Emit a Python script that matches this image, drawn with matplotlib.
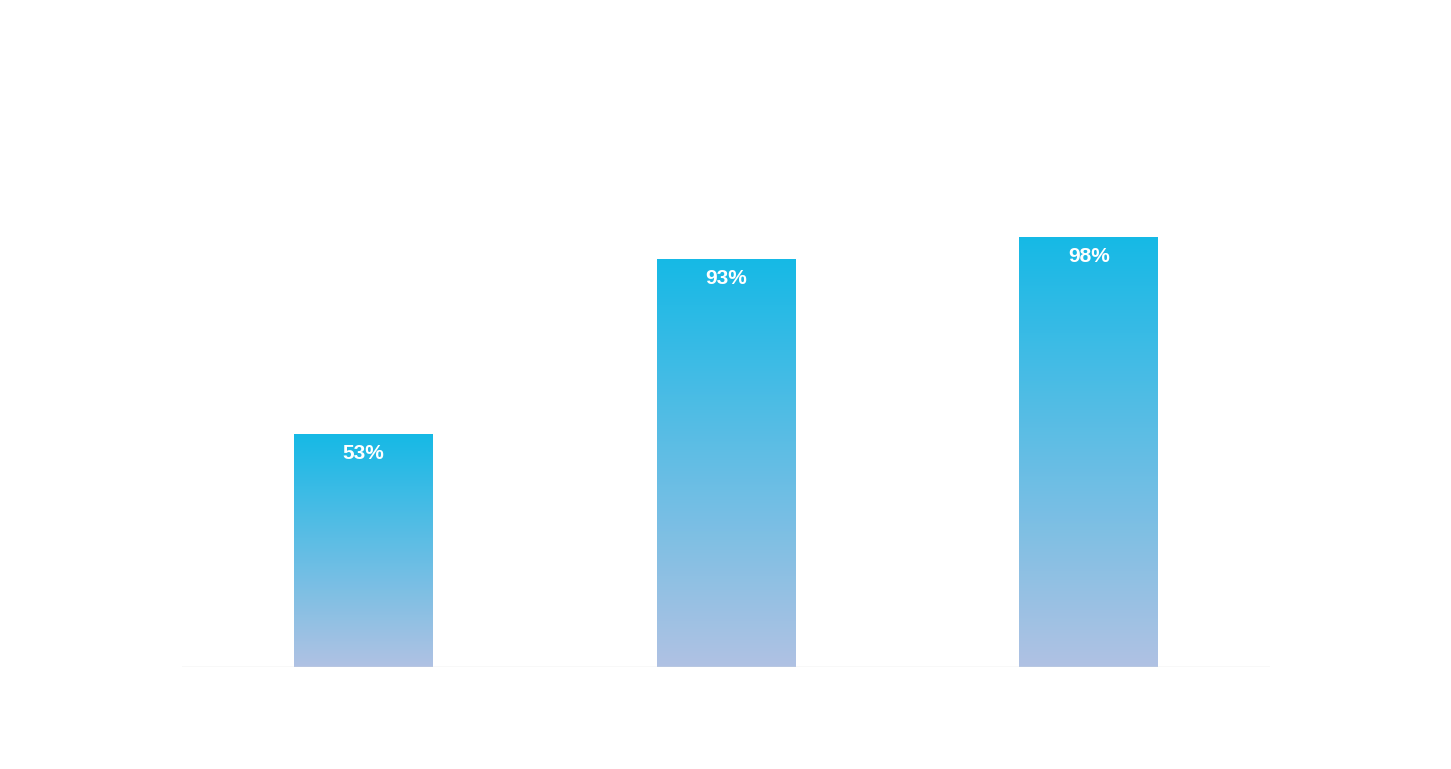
import matplotlib
matplotlib.use("Agg")
import matplotlib.pyplot as plt
import numpy as np
from matplotlib.colors import LinearSegmentedColormap

categories = ["A", "B", "C"]
values = [53, 93, 98]
labels = ["53%", "93%", "98%"]

W, H = 1451, 769
fig = plt.figure(figsize=(W/100, H/100), dpi=100)
ax = fig.add_axes([182/W, (H-667)/H, 1088/W, 438/H])
ax.set_xlim(-0.5, 2.5)
ax.set_ylim(0, 100)
ax.axis("off")
ax.axhline(0, color="#dddddd", lw=1, zorder=3)

cmap = LinearSegmentedColormap.from_list("g", ["#B0C2E3", "#16B9E6"])
grad = np.linspace(0, 1, 256).reshape(-1, 1)
bw = 0.383
for i, (v, lab) in enumerate(zip(values, labels)):
    ax.imshow(grad, cmap=cmap, origin="lower", aspect="auto",
              extent=(i - bw/2, i + bw/2, 0, v), zorder=2)
    ax.text(i, v - 4.3, lab, ha="center", va="center", color="white",
            fontsize=15, fontweight="bold", family="Liberation Sans", zorder=4)
ax.set_xlim(-0.5, 2.5)
ax.set_ylim(0, 100)
fig.savefig("out.png", dpi=100)
